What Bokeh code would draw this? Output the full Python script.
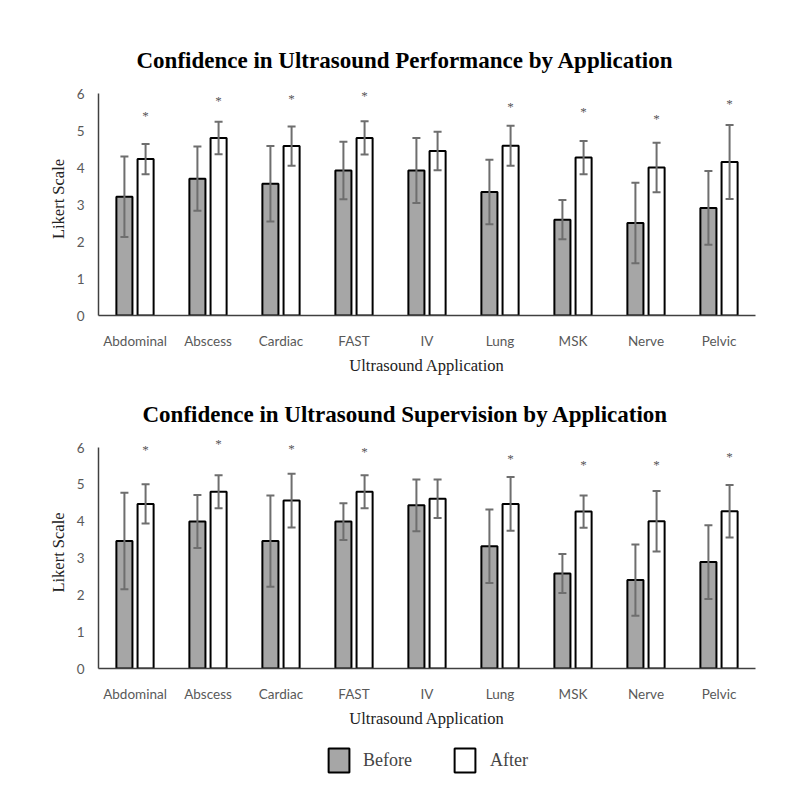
import numpy as np
from bokeh.plotting import figure
from bokeh.models import ColumnDataSource, Whisker, LabelSet, Legend, LegendItem, Range1d, FactorRange
from bokeh.layouts import column
from bokeh.transform import dodge
from bokeh.embed import file_html
from bokeh.resources import INLINE

categories = ["Abdominal", "Abscess", "Cardiac", "FAST", "IV", "Lung", "MSK", "Nerve", "Pelvic"]

# Performance
perf_before = [3.21, 3.70, 3.56, 3.92, 3.92, 3.34, 2.59, 2.50, 2.91]
perf_before_sd = [1.09, 0.87, 1.02, 0.78, 0.88, 0.87, 0.53, 1.09, 1.00]
perf_after = [4.23, 4.80, 4.58, 4.80, 4.45, 4.59, 4.27, 4.00, 4.15]
perf_after_sd = [0.41, 0.44, 0.53, 0.45, 0.52, 0.54, 0.45, 0.67, 1.00]
perf_star = ["*", "*", "*", "*", "", "*", "*", "*", "*"]
perf_star_y = [5.41, 5.82, 5.86, 5.95, 0, 5.64, 5.52, 5.33, 5.73]

# Supervision
sup_before = [3.46, 3.99, 3.46, 3.99, 4.43, 3.32, 2.58, 2.40, 2.89]
sup_before_sd = [1.31, 0.72, 1.24, 0.50, 0.70, 1.00, 0.53, 0.97, 1.00]
sup_after = [4.47, 4.80, 4.56, 4.80, 4.61, 4.47, 4.26, 4.00, 4.27]
sup_after_sd = [0.53, 0.45, 0.73, 0.45, 0.52, 0.73, 0.44, 0.82, 0.71]
sup_star = ["*", "*", "*", "*", "", "*", "*", "*", "*"]
sup_star_y = [5.96, 6.11, 5.98, 5.88, 0, 5.69, 5.55, 5.55, 5.77]

y_ticks = [0, 1, 2, 3, 4, 5, 6]
y_axis_max = 6
y_view_max = 6.3
legend_labels = ["Before", "After"]

GRAY = "#a6a6a6"
ERR = "#6e6e6e"
SERIF = "Liberation Serif"
SANS = "Lato"


def make_chart(title, before, bsd, after, asd, stars, star_y, height, top, bottom, title_offset):
    src = ColumnDataSource(dict(
        cat=categories, before=before, after=after,
        b_lo=[v - s for v, s in zip(before, bsd)], b_hi=[v + s for v, s in zip(before, bsd)],
        a_lo=[v - s for v, s in zip(after, asd)], a_hi=[v + s for v, s in zip(after, asd)],
        star=stars, star_y=star_y,
    ))
    p = figure(x_range=FactorRange(*categories), y_range=Range1d(0, y_view_max),
               width=792, height=height, output_backend="svg", toolbar_location=None,
               min_border_left=98, min_border_right=37, min_border_top=top, min_border_bottom=bottom)
    p.title.text = title
    p.title.align = "left"
    p.title.offset = title_offset
    p.title.text_font = SERIF
    p.title.text_font_style = "bold"
    p.title.text_font_size = "23px"
    p.title.text_color = "black"
    p.title.standoff = 20
    p.outline_line_color = None
    p.xgrid.grid_line_color = None
    p.ygrid.grid_line_color = None
    p.x_range.range_padding = 0
    p.x_range.factor_padding = 0

    p.vbar(x=dodge("cat", -0.145, range=p.x_range), top="before", width=0.22, source=src,
           fill_color=GRAY, line_color="black", line_width=2)
    p.vbar(x=dodge("cat", 0.145, range=p.x_range), top="after", width=0.22, source=src,
           fill_color="white", line_color="black", line_width=2)
    for off, lo, hi in [(-0.145, "b_lo", "b_hi"), (0.145, "a_lo", "a_hi")]:
        w = Whisker(base=dodge("cat", off, range=p.x_range), lower=lo, upper=hi, source=src,
                    line_color=ERR, line_width=2, level="overlay")
        w.upper_head.line_color = ERR
        w.lower_head.line_color = ERR
        w.upper_head.line_width = 2
        w.lower_head.line_width = 2
        w.upper_head.size = 8
        w.lower_head.size = 8
        p.add_layout(w)
    stars_ls = LabelSet(x=dodge("cat", 0.145, range=p.x_range), y="star_y", text="star", source=src,
                        text_align="center", text_baseline="middle", text_font=SANS,
                        text_font_size="13px", text_color="#555555")
    p.add_layout(stars_ls)

    p.yaxis.ticker = y_ticks
    p.yaxis.bounds = (0, y_axis_max)
    p.yaxis.axis_label = "Likert Scale"
    p.xaxis.axis_label = "Ultrasound Application"
    for ax in (p.xaxis[0], p.yaxis[0]):
        ax.axis_label_text_font = SERIF
        ax.axis_label_text_font_style = "normal"
        ax.axis_label_text_font_size = "16.5px"
        ax.axis_label_text_color = "#222222"
        ax.major_label_text_font = SANS
        ax.major_label_text_font_size = "13.5px"
        ax.major_label_text_color = "#595959"
        ax.major_tick_line_color = None
        ax.minor_tick_line_color = None
        ax.axis_line_color = "#404040"
        ax.axis_line_width = 1.5
    p.yaxis.major_label_standoff = 8
    p.yaxis.axis_label_standoff = 6
    p.xaxis.major_label_standoff = 11
    p.xaxis.axis_label_standoff = 4
    return p


p1 = make_chart("Confidence in Ultrasound Performance by Application",
                perf_before, perf_before_sd, perf_after, perf_after_sd, perf_star, perf_star_y,
                height=385, top=82, bottom=70, title_offset=38)
p2 = make_chart("Confidence in Ultrasound Supervision by Application",
                sup_before, sup_before_sd, sup_after, sup_after_sd, sup_star, sup_star_y,
                height=345, top=51, bottom=60, title_offset=44)

# legend panel (swatch renderers carry no drawable data)
p3 = figure(width=792, height=60, output_backend="svg", toolbar_location=None,
            x_range=Range1d(0, 1), y_range=Range1d(0, 1), min_border=0)
p3.axis.visible = False
p3.grid.visible = False
p3.outline_line_color = None
hidden = ColumnDataSource(dict(x=np.array([np.nan]), top=np.array([np.nan])))
r_b = p3.vbar(x="x", top="top", width=0.1, source=hidden,
              fill_color=GRAY, line_color="black", line_width=2)
r_a = p3.vbar(x="x", top="top", width=0.1, source=hidden,
              fill_color="white", line_color="black", line_width=2)
leg = Legend(items=[LegendItem(label=legend_labels[0], renderers=[r_b]),
                    LegendItem(label=legend_labels[1], renderers=[r_a])],
             orientation="horizontal", location="center",
             glyph_width=26, glyph_height=30, label_text_font=SERIF,
             label_text_font_size="18px", label_standoff=12, spacing=40,
             border_line_color=None, background_fill_alpha=0, padding=0, margin=0)
p3.add_layout(leg, "center")

layout = column(p1, p2, p3)
open("out.html", "w").write(file_html(layout, INLINE))
